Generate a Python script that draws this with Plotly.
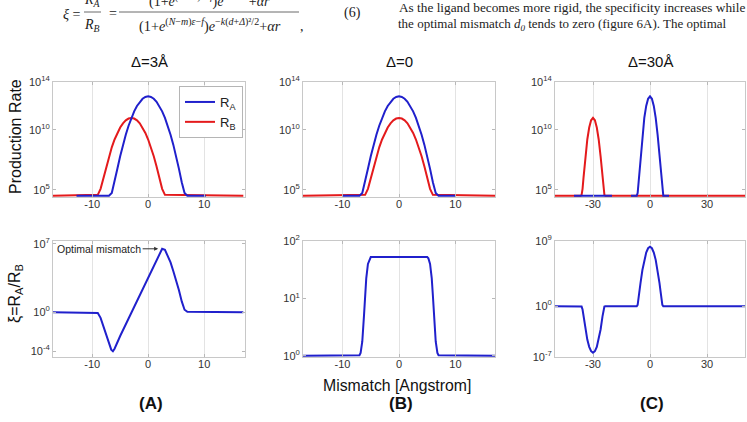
import plotly.graph_objects as go

# ---------------- data (log10 values) ----------------
# Panel A (Delta = 3 A) production rates
ra_a_x = [-12.8, -7, -6.5, -6, -5.5, -5, -4.5, -4, -3.5, -3, -2.5, -2, -1.5, -1, -0.5, 0,
          0.5, 1, 1.5, 2, 2.5, 3, 3.5, 4, 4.5, 5, 5.5, 6, 6.5, 7, 10.3]
ra_a_log = [4.5, 4.5, 4.73, 5.63, 6.75, 7.8, 8.75, 9.6, 10.35, 11.0, 11.55, 12.0, 12.35, 12.6, 12.75, 12.8,
            12.75, 12.6, 12.35, 12.0, 11.55, 11.0, 10.35, 9.6, 8.75, 7.8, 6.75, 5.63, 4.73, 4.5, 4.5]
rb_a_x = [-17, -9, -8.5, -8, -7.5, -7, -6.5, -6, -5.5, -5, -4.5, -4, -3.5, -3, -2.5, -2, -1.5,
          -1, -0.5, 0, 0.5, 1, 1.5, 2, 2.5, 3, 17]
rb_a_log = [4.5, 4.58, 5.08, 6.0, 6.95, 7.8, 8.55, 9.2, 9.75, 10.2, 10.55, 10.8, 10.95, 11.0, 10.95, 10.8, 10.55,
            10.2, 9.75, 9.2, 8.55, 7.8, 6.95, 6.0, 5.08, 4.58, 4.5]

# Panel B (Delta = 0)
ra_b_x = [-10, -7, -6.5, -6, -5.5, -5, -4.5, -4, -3.5, -3, -2.5, -2, -1.5, -1, -0.5, 0,
          0.5, 1, 1.5, 2, 2.5, 3, 3.5, 4, 4.5, 5, 5.5, 6, 6.5, 7, 10]
ra_b_log = [4.5, 4.5, 4.73, 5.63, 6.75, 7.8, 8.75, 9.6, 10.35, 11.0, 11.55, 12.0, 12.35, 12.6, 12.75, 12.8,
            12.75, 12.6, 12.35, 12.0, 11.55, 11.0, 10.35, 9.6, 8.75, 7.8, 6.75, 5.63, 4.73, 4.5, 4.5]
rb_b_x = [-17, -6, -5.5, -5, -4.5, -4, -3.5, -3, -2.5, -2, -1.5, -1, -0.5, 0,
          0.5, 1, 1.5, 2, 2.5, 3, 3.5, 4, 4.5, 5, 5.5, 6, 17]
rb_b_log = [4.5, 4.58, 5.08, 6.0, 6.95, 7.8, 8.55, 9.2, 9.75, 10.2, 10.55, 10.8, 10.95, 11.0,
            10.95, 10.8, 10.55, 10.2, 9.75, 9.2, 8.55, 7.8, 6.95, 6.0, 5.08, 4.58, 4.5]

# Panel C (Delta = 30 A)
ra_c_x = [-40, -20, None, -10, -7, -6.5, -6, -5.5, -5, -4, -3, -2, -1, 0, 1, 2, 3, 4, 5, 5.5, 6, 6.5, 7, 10]
ra_c_log = [4.5, 4.5, None, 4.5, 4.5, 4.73, 5.63, 6.75, 7.8, 9.6, 11.0, 12.0, 12.6, 12.8, 12.6, 12.0, 11.0,
            9.6, 7.8, 6.75, 5.63, 4.73, 4.5, 4.5]
rb_c_x = [-50, -36.5, -36, -35.5, -35, -34, -33, -32, -31, -30, -29, -28, -27, -26, -25, -24.5, -24, -23.5, 50]
rb_c_log = [4.5, 4.5, 4.58, 5.08, 6.0, 7.8, 9.2, 10.2, 10.8, 11.0, 10.8, 10.2, 9.2, 7.8, 6.0, 5.08, 4.58, 4.5, 4.5]

# Specificity xi = RA / RB
xi_a_x = [-17, -9, -8.5, -8, -7.5, -7, -6.6, -6.3, -6, -5, -4, -3, -2, -1, 0, 1, 2, 2.5, 3, 3.5,
          4, 4.5, 5, 5.5, 6, 6.5, 7, 17]
xi_a_log = [0, -0.08, -0.58, -1.5, -2.45, -3.3, -3.85, -4.0, -3.75, -2.45, -1.25, -0.05, 1.15, 2.3, 3.5, 4.7,
            5.9, 6.5, 6.4, 5.8, 5.1, 4.2, 3.3, 2.25, 1.1, 0.25, 0.03, 0]
xi_b_x = [-17, -7, -6.8, -6.5, -6.2, -6, -5.8, -5.5, -5.2, -5, 5, 5.2, 5.5, 5.8, 6, 6.2, 6.5, 6.8, 7, 17]
xi_b_log = [0, 0.01, 0.05, 0.25, 0.7, 1.05, 1.35, 1.6, 1.7, 1.72, 1.72, 1.7, 1.6, 1.35, 1.05, 0.7, 0.25, 0.05,
            0.01, 0]
xi_c_x = [-50, -36.5, -36, -35.5, -35, -34, -33, -32, -31, -30, -29, -28, -27, -26, -25, -24.5, -24, -23.5,
          -7, -6.5, -6, -5.5, -5, -4, -3, -2, -1, 0, 1, 2, 3, 4, 5, 5.5, 6, 6.5, 7, 50]
xi_c_log = [0, 0, -0.05, -0.45, -1.4, -3.2, -4.6, -5.6, -6.2, -6.4, -6.2, -5.6, -4.6, -3.2, -1.4, -0.45, -0.05, 0,
            0, 0.2, 1.0, 2.15, 3.2, 5.0, 6.4, 7.4, 8.0, 8.2, 8.0, 7.4, 6.4, 5.0, 3.2, 2.15, 1.0, 0.2, 0, 0]

titles = ["Δ=3Å", "Δ=0", "Δ=30Å"]
panel_labels = ["(A)", "(B)", "(C)"]
xticks_ab = [-10, 0, 10]
xticks_c = [-30, 0, 30]
top_yticks = [5, 10, 14]
xi_yticks = [[-4, 0, 7], [0, 1, 2], [-7, 0, 9]]


def pw(v):
    return [None if a is None else 10 ** a for a in v]


W, H = 747, 422
BLUE = "#2020cc"
RED = "#e41a1c"
SANS = "Liberation Sans, Arial, sans-serif"
SERIF = "Liberation Serif, Times New Roman, serif"

fig = go.Figure()

# domains in pixels (left, right) and (top, bottom)
xdom_px = [(53, 245), (303, 495), (555, 745)]
top_px = (82, 197)
bot_px = (241, 357)


def xd(p):
    return [p[0] / W, p[1] / W]


def yd(p):
    return [1 - p[1] / H, 1 - p[0] / H]


top_data = [
    (ra_a_x, ra_a_log, rb_a_x, rb_a_log),
    (ra_b_x, ra_b_log, rb_b_x, rb_b_log),
    (ra_c_x, ra_c_log, rb_c_x, rb_c_log),
]
bot_data = [(xi_a_x, xi_a_log), (xi_b_x, xi_b_log), (xi_c_x, xi_c_log)]
xranges = [[-17, 17.3], [-17, 17], [-50, 50]]
bot_yranges = [[-4.6, 7.3], [-0.02, 2.0], [-7, 9]]

for i in range(3):
    ax_top = i + 1
    ax_bot = i + 4
    rx, rl, bx, bl = top_data[i]
    fig.add_trace(go.Scatter(x=bx, y=pw(bl), mode="lines", line=dict(color=RED, width=2),
                             name="R<sub>B</sub>", showlegend=(i == 0), legendrank=2,
                             xaxis=f"x{ax_top}", yaxis=f"y{ax_top}"))
    fig.add_trace(go.Scatter(x=rx, y=pw(rl), mode="lines", line=dict(color=BLUE, width=2),
                             name="R<sub>A</sub>", showlegend=(i == 0), legendrank=1,
                             xaxis=f"x{ax_top}", yaxis=f"y{ax_top}", connectgaps=False))
    xx, xl = bot_data[i]
    fig.add_trace(go.Scatter(x=xx, y=pw(xl), mode="lines", line=dict(color=BLUE, width=2),
                             showlegend=False, xaxis=f"x{ax_bot}", yaxis=f"y{ax_bot}"))

axis_common = dict(showline=True, linecolor="#c8c8c8", linewidth=1, mirror="ticks",
                   ticks="inside", ticklen=3, tickcolor="#b8b8b8", zeroline=False, automargin=False,
                   tickfont=dict(family=SANS, size=11, color="#333333"))

layout_axes = {}
for i in range(3):
    xt = xticks_c if i == 2 else xticks_ab
    for row, ax in ((0, i + 1), (1, i + 4)):
        key = "" if ax == 1 else str(ax)
        layout_axes[f"xaxis{key}"] = dict(
            axis_common, domain=xd(xdom_px[i]), range=xranges[i], anchor=f"y{key if key else ''}",
            tickvals=xt, ticktext=[str(t) for t in xt], showgrid=True, gridcolor="#e3e3e3",
            gridwidth=1, ticklabelstandoff=-3)
        if row == 0:
            yr = [4.4, 14]
            yt = top_yticks
            dom = yd(top_px)
        else:
            yr = bot_yranges[i]
            yt = xi_yticks[i]
            dom = yd(bot_px)
        layout_axes[f"yaxis{key}"] = dict(
            axis_common, domain=dom, type="log", range=yr, anchor=f"x{key if key else ''}",
            tickvals=[10 ** t for t in yt], ticktext=[f"10<sup>{t}</sup>" for t in yt],
            showgrid=False)

fig.update_layout(**layout_axes)


def txt(text, px, py, size, family=SANS, color="#111111", xanchor="center", **kw):
    return dict(text=text, x=px / W, y=1 - py / H, xref="paper", yref="paper", showarrow=False,
                xanchor=xanchor, yanchor="middle", font=dict(family=family, size=size, color=color), **kw)


annotations = []
# panel titles and panel labels
for i in range(3):
    cx = (xdom_px[i][0] + xdom_px[i][1]) / 2
    annotations.append(txt(titles[i], cx, 62, 15))
    annotations.append(txt(f"<b>{panel_labels[i]}</b>", cx + 2, 403, 17))

# axis labels
annotations.append(txt("Production Rate", 15, 137, 16, textangle=-90))
annotations.append(txt("ξ=R<sub>A</sub>/R<sub>B</sub>", 15, 294, 16, textangle=-90))
annotations.append(txt("Mismatch [Angstrom]", 397, 385, 15.8))

# optimal mismatch arrow
annotations.append(dict(text="Optimal mismatch", x=2.5, y=6.5, xref="x4", yref="y4", showarrow=True,
                        ax=-63, ay=0, axref="pixel", ayref="pixel", arrowhead=2, arrowsize=0.8,
                        arrowwidth=1, arrowcolor="#333333", standoff=4,
                        font=dict(family=SANS, size=10.5, color="#222222")))

# page text (equation and paragraph)
EQC = "#222222"
annotations += [
    txt("<i>ξ</i> =", 72, 14, 14, SERIF, EQC),
    txt("<i>R<sub>A</sub></i>", 92, 1, 14, SERIF, EQC),
    txt("<i>R<sub>B</sub></i>", 92, 25, 14, SERIF, EQC),
    txt("=", 113, 13, 14, SERIF, EQC),
    txt("(1+<i>e</i><sup>(<i>N</i>−<i>m</i>)<i>ε</i>−<i>f</i></sup>)<i>e</i><sup>−<i>kd</i>²/2</sup>+<i>αr</i>",
        209, 0, 14, SERIF, EQC),
    txt("(1+<i>e</i><sup>(<i>N</i>−<i>m</i>)<i>ε</i>−<i>f</i></sup>)<i>e</i><sup>−<i>k</i>(<i>d</i>+<i>Δ</i>)²/2</sup>+<i>αr</i>",
        210, 25, 14.3, SERIF, EQC),
    txt(",", 302, 27, 14, SERIF, EQC),
    txt("(6)", 352, 13, 14, SERIF, EQC),
    txt("As the ligand becomes more rigid, the specificity increases while", 572, 8, 13.3, SERIF, EQC),
    txt("the optimal mismatch <i>d<sub>0</sub></i> tends to zero (figure 6A). The optimal", 562, 24, 13.0,
        SERIF, EQC),
]

shapes = [
    dict(type="line", xref="paper", yref="paper", x0=84 / W, x1=101 / W, y0=1 - 12 / H, y1=1 - 12 / H,
         line=dict(color="#444444", width=0.8)),
    dict(type="line", xref="paper", yref="paper", x0=119 / W, x1=299 / W, y0=1 - 12 / H, y1=1 - 12 / H,
         line=dict(color="#444444", width=0.8)),
]

fig.update_layout(
    width=W, height=H, margin=dict(l=0, r=0, t=0, b=0, autoexpand=False),
    paper_bgcolor="white", plot_bgcolor="white",
    annotations=annotations, shapes=shapes,
    showlegend=True,
    legend=dict(x=243 / W, y=1 - 86 / H, xanchor="right", yanchor="top", bgcolor="white",
                bordercolor="#b5b5b5", borderwidth=1, font=dict(family=SANS, size=13, color="#222222"),
                itemwidth=30, tracegroupgap=0),
)

fig.write_html("out.html")
